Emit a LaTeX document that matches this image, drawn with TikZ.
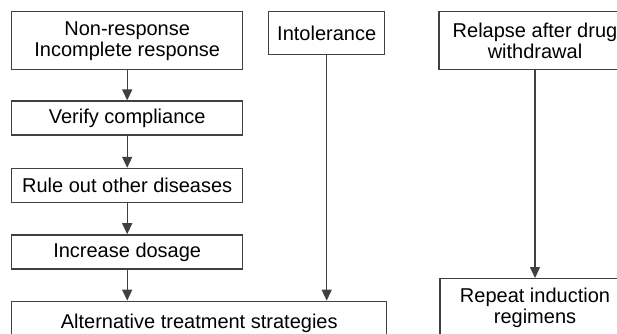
\documentclass[tikz,border=0pt]{standalone}
\usepackage{fontspec}
\setmainfont{Liberation Sans}
\usetikzlibrary{positioning,arrows.meta}

\begin{document}
\begin{tikzpicture}[
  x=1pt, y=1pt,
  box/.style={draw=black!75, line width=1.4pt, minimum width=231pt, minimum height=34pt, inner sep=0pt,
    font=\fontsize{20}{21}\selectfont, align=center},
  tallbox/.style={box, minimum height=58pt},
  arrow/.style={-{Triangle[length=11pt,width=10pt]}, line width=1.4pt, draw=black!75}
]
\useasboundingbox (0,0) rectangle (617,-333);
% left column
\node[tallbox, anchor=north west] (nonresp) at (11,-11) {Non-response\\Incomplete response};
\node[box, below=30pt of nonresp] (verify) {Verify compliance};
\node[box, below=32pt of verify] (ruleout) {Rule out other diseases};
\node[box, below=31pt of ruleout] (dosage) {Increase dosage};
\node[box, below=31pt of dosage.south west, anchor=north west, minimum width=375pt, minimum height=44pt] (alt) {Alternative treatment strategies};
% middle
\node[box, anchor=north west, minimum width=116pt, minimum height=43pt] (intol) at (268,-11) {Intolerance};
% right column
\node[tallbox, anchor=north, minimum width=192pt] (relapse) at (535,-11) {Relapse after drug\\withdrawal};
\node[tallbox, anchor=north, minimum width=190pt] (repeat) at (535,-278) {Repeat induction\\regimens};

\draw[arrow] (nonresp) -- (verify);
\draw[arrow] (verify) -- (ruleout);
\draw[arrow] (ruleout) -- (dosage);
\draw[arrow] (dosage.south) -- (dosage.south |- alt.north);
\draw[arrow] (intol.south) -- (intol.south |- alt.north);
\draw[arrow] (relapse) -- (repeat);
\end{tikzpicture}
\end{document}
